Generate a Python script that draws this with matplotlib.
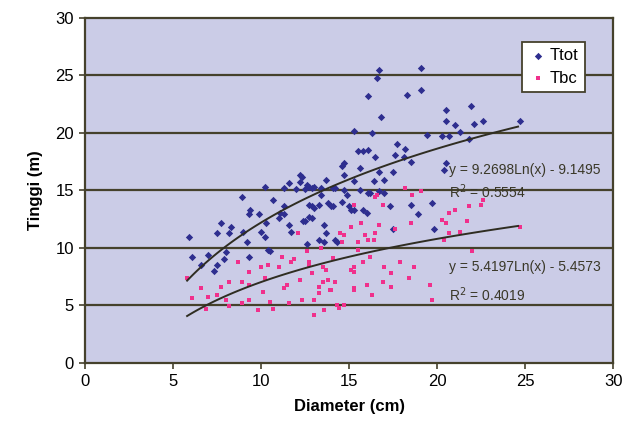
import numpy as np
import matplotlib
matplotlib.use('Agg')
import matplotlib.pyplot as plt

plt.rcParams['font.family'] = ['Liberation Sans', 'DejaVu Sans']

# Ttot: diameter (cm), total height (m)
ttot_x = [5.9, 6.1, 6.6, 7.0, 7.5, 7.9, 8.0, 7.3, 7.7, 8.3, 7.5, 8.2, 9.0, 9.3, 9.2,
          10.3, 10.0, 10.2, 10.4, 10.5, 9.4, 9.9, 9.3, 8.9, 10.7, 10.2, 11.1, 11.3, 11.3,
          11.0, 11.6, 11.7, 12.4, 12.7, 12.9, 11.3, 11.6, 12.0, 12.2, 12.2, 12.5, 12.6,
          13.0, 12.3, 12.7, 13.4, 13.7, 14.2, 14.7, 14.6, 14.7, 15.5, 15.3, 16.3, 16.1,
          16.6, 16.7, 19.1, 19.1, 18.3, 16.8, 20.5, 21.9, 20.5, 21.0, 21.3, 22.1, 22.6,
          24.7, 19.4, 20.3, 20.7, 21.8, 15.8, 16.1, 16.5, 17.7, 18.2, 17.6, 18.1, 15.6,
          16.7, 18.5, 17.0, 17.5, 15.3, 16.4, 20.4, 20.5, 16.2, 17.0, 15.6, 14.9, 12.9,
          13.4, 14.1, 14.7, 16.1, 16.7, 12.7, 13.0, 13.8, 14.1, 14.6, 15.1, 15.8, 16.0,
          17.3, 15.0, 15.3, 14.0, 13.3, 12.5, 12.9, 13.6, 17.5, 13.7, 13.3, 13.6, 14.3,
          12.6, 18.5, 19.7, 18.9, 19.8, 14.2]
ttot_y = [10.9, 9.2, 8.5, 9.4, 8.5, 9.0, 9.6, 8.0, 12.2, 11.8, 11.3, 11.3, 11.4, 9.2, 10.5,
          12.2, 11.4, 10.9, 9.8, 9.7, 13.3, 12.9, 12.9, 14.4, 14.2, 15.3, 13.0, 12.9, 13.6,
          12.6, 12.0, 11.4, 12.3, 12.7, 13.6, 15.2, 15.6, 15.1, 15.7, 16.3, 15.1, 15.5,
          15.3, 16.2, 15.3, 15.2, 15.9, 15.2, 16.3, 17.1, 17.4, 18.4, 20.2, 20.0, 23.2,
          24.8, 25.5, 25.6, 23.7, 23.3, 21.4, 22.0, 22.3, 21.0, 20.7, 20.1, 20.8, 21.0,
          21.0, 19.8, 19.7, 19.7, 19.5, 18.4, 18.5, 17.9, 19.0, 18.6, 18.1, 17.9, 16.9,
          16.6, 17.5, 15.9, 16.6, 15.8, 15.8, 16.8, 17.4, 14.8, 14.8, 15.0, 14.6, 15.2,
          14.6, 15.2, 15.0, 14.8, 14.9, 13.7, 13.5, 13.9, 13.6, 14.0, 13.3, 13.3, 13.0,
          13.6, 13.6, 13.3, 13.6, 13.7, 12.3, 12.6, 12.0, 11.6, 11.3, 10.7, 10.5, 10.5,
          10.3, 13.7, 13.9, 12.9, 11.6, 10.7]

# Tbc: diameter (cm), height to first branch (m)
tbc_x = [5.8, 6.1, 6.6, 7.0, 7.7, 7.5, 8.2, 8.0, 8.9, 8.7, 8.9, 9.3, 9.3, 9.3, 10.0, 10.2,
         10.1, 10.4, 10.5, 10.7, 11.0, 11.2, 11.3, 11.5, 11.6, 11.7, 12.1, 11.9, 12.2, 12.3,
         12.6, 12.7, 12.9, 13.0, 13.0, 13.3, 13.4, 13.5, 13.6, 13.8, 13.9, 14.1, 14.3, 14.4,
         14.5, 14.6, 14.7, 15.1, 15.3, 15.5, 15.5, 12.7, 13.3, 14.0, 13.5, 14.2, 13.7, 15.3,
         15.1, 15.7, 15.9, 16.1, 16.4, 16.5, 16.7, 16.9, 16.6, 16.2, 15.8, 15.3, 15.3, 15.3,
         16.0, 16.3, 16.9, 17.4, 17.0, 17.4, 17.9, 18.4, 18.7, 19.6, 19.7, 18.5, 17.6, 19.1,
         21.8, 20.7, 21.0, 20.3, 20.5, 20.7, 21.3, 20.4, 21.7, 22.6, 22.5, 22.0, 24.7, 18.6,
         18.2, 16.5, 14.7, 6.9, 9.8, 8.2]
tbc_y = [7.4, 5.6, 6.5, 5.7, 6.6, 5.9, 7.0, 5.5, 7.0, 8.8, 5.2, 7.9, 6.8, 5.5, 8.3, 7.4,
         6.2, 8.5, 5.3, 4.7, 8.3, 9.2, 6.5, 6.8, 5.2, 8.8, 11.3, 9.0, 7.2, 5.5,
         9.7, 8.5, 7.8, 5.5, 4.2, 6.6, 10.0, 8.3, 4.6, 7.2, 6.3, 9.1, 5.0, 4.8,
         11.3, 10.5, 11.1, 8.1, 6.5, 10.5, 9.8, 8.8, 6.1, 6.3, 7.0, 7.0, 8.1, 13.7,
         11.8, 12.2, 11.1, 10.7, 10.7, 11.3, 12.0, 13.7, 14.6, 9.2, 8.8, 8.3, 7.9, 6.3,
         6.8, 5.9, 7.0, 6.6, 8.3, 7.8, 8.8, 7.4, 8.3, 6.8, 5.5, 12.2, 11.6, 14.9,
         13.6, 13.0, 13.3, 12.4, 12.2, 11.3, 11.4, 10.7, 12.3, 14.2, 13.7, 9.7, 11.8, 14.6,
         15.2, 14.4, 5.0, 4.7, 4.6, 4.9]

# logarithmic trendlines as printed on the chart: y = a*ln(x) + b
ttot_a, ttot_b, ttot_r2 = 9.2698, -9.1495, 0.5554
tbc_a, tbc_b, tbc_r2 = 5.4197, -5.4573, 0.4019
trend_start, trend_end = 5.8, 24.6

fig = plt.figure(figsize=(6.25, 4.34), dpi=100)
ax = fig.add_axes([0.136, 0.164, 0.845, 0.795])
ax.set_facecolor('#CBCCE7')

line_col = '#45412C'
for y in range(5, 30, 5):
    ax.axhline(y, color=line_col, lw=1.6, zorder=1)

ax.scatter(ttot_x, ttot_y, marker='D', s=14, color='#2E2E8F', lw=0, zorder=3, label='Ttot')
ax.scatter(tbc_x, tbc_y, marker='s', s=9, color='#F0308C', lw=0, zorder=3, label='Tbc')

xs = np.linspace(trend_start, trend_end, 100)
ax.plot(xs, ttot_a * np.log(xs) + ttot_b, color='#2F2D22', lw=1.4, zorder=4)
ax.plot(xs, tbc_a * np.log(xs) + tbc_b, color='#2F2D22', lw=1.4, zorder=4)

eq_col = '#3A3828'
ax.text(20.7, 16.8, 'y = %.4fLn(x) - %.4f' % (ttot_a, -ttot_b), fontsize=10, color=eq_col, va='center')
ax.text(20.7, 14.9, 'R$^2$ = %.4f' % ttot_r2, fontsize=10, color=eq_col, va='center')
ax.text(20.7, 8.35, 'y = %.4fLn(x) - %.4f' % (tbc_a, -tbc_b), fontsize=10, color=eq_col, va='center')
ax.text(20.7, 5.9, 'R$^2$ = %.4f' % tbc_r2, fontsize=10, color=eq_col, va='center')

ax.set_xlim(0, 30)
ax.set_ylim(0, 30)
ax.set_xticks(range(0, 31, 5))
ax.set_yticks(range(0, 31, 5))
ax.tick_params(direction='out', length=4, width=1.2, color=line_col, labelsize=12, pad=4)
for s in ax.spines.values():
    s.set_color(line_col)
    s.set_linewidth(1.6)

ax.set_xlabel('Diameter (cm)', fontsize=12, fontweight='bold', labelpad=7)
ax.set_ylabel('Tinggi (m)', fontsize=12, fontweight='bold', labelpad=9)

leg = ax.legend(loc='upper right', bbox_to_anchor=(0.963, 0.955), fontsize=12, frameon=True,
                fancybox=False, handletextpad=0.1, borderpad=0.4, labelspacing=0.45,
                handlelength=1.2, markerscale=1.0)
leg.get_frame().set_edgecolor(line_col)
leg.get_frame().set_linewidth(1.3)
leg.get_frame().set_facecolor('white')
leg.get_frame().set_alpha(1)

fig.savefig('out.png', dpi=100)
